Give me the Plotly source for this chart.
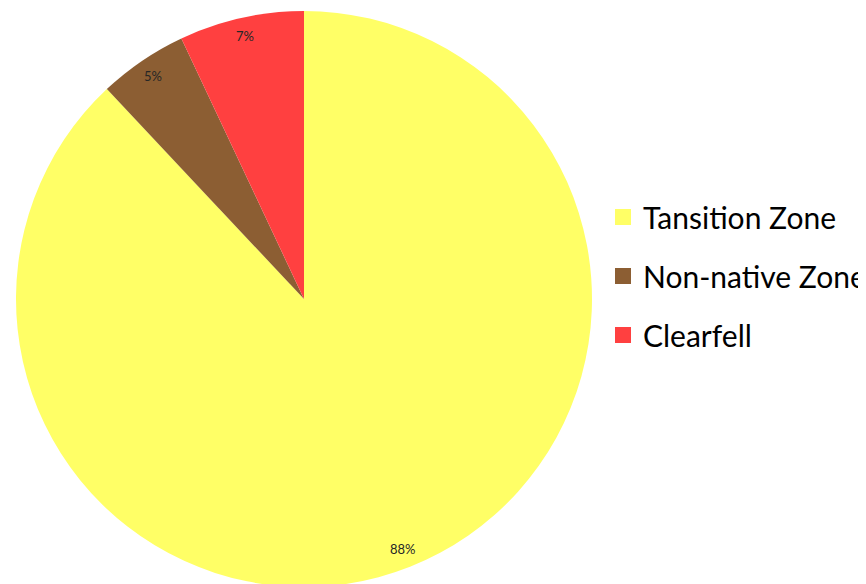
import math
import plotly.graph_objects as go

categories = ["Tansition Zone", "Non-native Zone", "Clearfell"]
values = [88, 5, 7]
colors = ["#FFFF66", "#8C5E33", "#FF4040"]

# The page body keeps its default 8px margin, so the figure sits 8px right/down.
W, H = 866, 584
ML, MR, MT, MB = 8, 0, 3, 5
plot_w = W - ML - MR
plot_h = H - MT - MB
radius_px = plot_h / 2
cx_px = ML + radius_px
cy_px = MT + radius_px
dom_w = plot_h / plot_w

fig = go.Figure()
fig.add_trace(go.Pie(
    labels=categories, values=values, sort=False, direction="clockwise",
    rotation=0, marker=dict(colors=colors, line=dict(width=0)),
    textinfo="none", hoverinfo="label+percent", showlegend=False,
    domain=dict(x=[0, dom_w], y=[0, 1]),
))

# Percentage labels near the rim, positions derived from the values
total = sum(values)
cum = 0
annotations = []
for v in values:
    mid = (cum + v / 2) / total * 2 * math.pi
    cum += v
    r = 0.935 * radius_px
    px = cx_px + r * math.sin(mid)
    py = cy_px - r * math.cos(mid)
    annotations.append(dict(
        x=(px - ML) / plot_w, y=(H - MB - py) / plot_h, xref="paper", yref="paper",
        xanchor="center", yanchor="middle",
        text=f"{round(v / total * 100)}%", showarrow=False,
        font=dict(size=13, color="#262626", family="Lato, Noto Sans, sans-serif"),
    ))

# Legend entries
for i, (c, col) in enumerate(zip(categories, colors)):
    fig.add_trace(go.Scatter(
        x=[None], y=[None], mode="markers", name=c, legendgroup=f"g{i}",
        marker=dict(symbol="square", size=18, color=col),
    ))

fig.update_layout(
    width=W, height=H, autosize=False,
    margin=dict(l=ML, r=MR, t=MT, b=MB, pad=0),
    paper_bgcolor="white", plot_bgcolor="white",
    xaxis=dict(visible=False), yaxis=dict(visible=False),
    annotations=annotations,
    showlegend=True,
    legend=dict(
        x=(595 - ML) / plot_w, xanchor="left", y=(H - MB - 268) / plot_h, yanchor="middle",
        font=dict(size=30, color="#000000", family="Lato, Noto Sans, sans-serif"),
        tracegroupgap=17, bgcolor="rgba(0,0,0,0)",
    ),
)

fig.write_html("out.html", config={"displayModeBar": False})
